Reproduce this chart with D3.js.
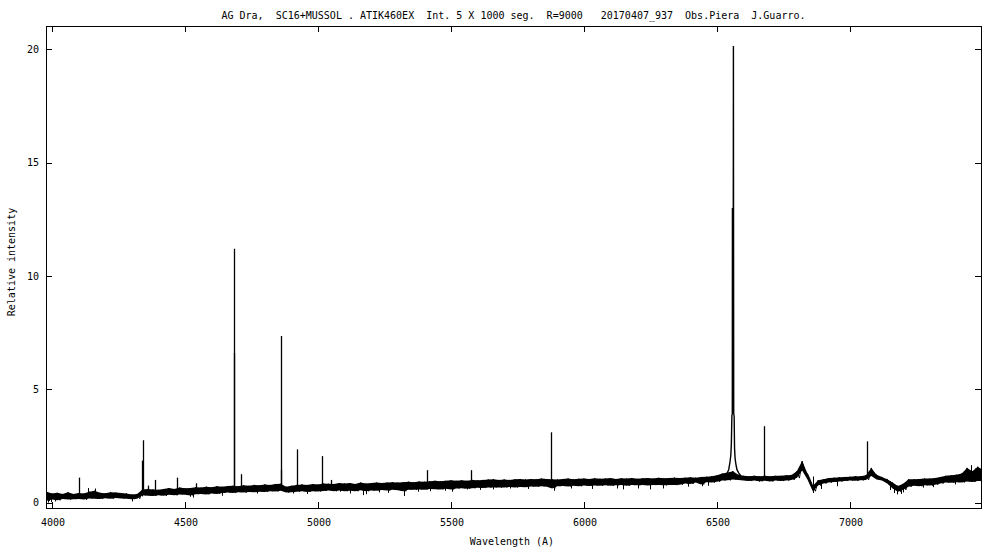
<!DOCTYPE html>
<html><head><meta charset="utf-8">
<script src="https://cdn.jsdelivr.net/npm/d3@7"></script>
<style>
html,body{margin:0;padding:0;background:#fff;}
text{font-family:"DejaVu Sans Mono",monospace;font-size:10px;fill:#000;white-space:pre;}
</style></head>
<body><svg id="c" width="1000" height="550"></svg>
<script>
// ---- data ----
const title = "AG Dra,  SC16+MUSSOL . ATIK460EX  Int. 5 X 1000 seg.  R=9000   20170407_937  Obs.Piera  J.Guarro.";
const xLabel = "Wavelength (A)";
const yLabel = "Relative intensity";
const xTicks = [4000, 4500, 5000, 5500, 6000, 6500, 7000];
const yTicks = [0, 5, 10, 15, 20];
const xDomain = [3977.4, 7492.5];
const yDomain = [-0.24, 21.03];

// continuum band, 20 A bins: lower and upper envelope of the noisy spectrum
const contWl = [3980,4000,4020,4040,4060,4080,4100,4120,4140,4160,4180,4200,4220,4240,4260,4280,4300,4320,4340,4360,4380,4400,4420,4440,4460,4480,4500,4520,4540,4560,4580,4600,4620,4640,4660,4680,4700,4720,4740,4760,4780,4800,4820,4840,4860,4880,4900,4920,4940,4960,4980,5000,5020,5040,5060,5080,5100,5120,5140,5160,5180,5200,5220,5240,5260,5280,5300,5320,5340,5360,5380,5400,5420,5440,5460,5480,5500,5520,5540,5560,5580,5600,5620,5640,5660,5680,5700,5720,5740,5760,5780,5800,5820,5840,5860,5880,5900,5920,5940,5960,5980,6000,6020,6040,6060,6080,6100,6120,6140,6160,6180,6200,6220,6240,6260,6280,6300,6320,6340,6360,6380,6400,6420,6440,6460,6480,6500,6520,6540,6560,6580,6600,6620,6640,6660,6680,6700,6720,6740,6760,6780,6800,6820,6840,6860,6880,6900,6920,6940,6960,6980,7000,7020,7040,7060,7080,7100,7120,7140,7160,7180,7200,7220,7240,7260,7280,7300,7320,7340,7360,7380,7400,7420,7440,7460,7480,7495];
const contLo = [0.08,0.14,0.10,0.16,0.13,0.15,0.16,0.13,0.18,0.17,0.16,0.19,0.17,0.20,0.18,0.17,0.15,0.17,0.32,0.30,0.29,0.32,0.30,0.34,0.32,0.36,0.34,0.31,0.37,0.38,0.36,0.40,0.38,0.42,0.44,0.42,0.46,0.44,0.47,0.46,0.48,0.47,0.50,0.49,0.52,0.44,0.46,0.48,0.50,0.47,0.50,0.49,0.51,0.53,0.50,0.53,0.50,0.52,0.50,0.54,0.50,0.53,0.52,0.55,0.53,0.56,0.54,0.50,0.57,0.56,0.58,0.57,0.60,0.59,0.58,0.61,0.58,0.62,0.63,0.61,0.63,0.65,0.64,0.66,0.67,0.66,0.67,0.69,0.67,0.69,0.68,0.71,0.70,0.72,0.70,0.62,0.72,0.73,0.71,0.74,0.72,0.75,0.73,0.75,0.74,0.76,0.74,0.76,0.77,0.74,0.77,0.76,0.78,0.75,0.77,0.78,0.76,0.78,0.77,0.79,0.84,0.82,0.88,0.80,0.90,0.88,0.92,0.97,0.98,1.02,1.00,0.97,0.95,0.97,0.94,0.96,0.93,0.97,0.95,0.97,1.00,1.08,1.42,1.02,0.50,0.75,0.84,0.88,0.91,0.93,0.95,0.97,0.96,0.98,1.00,1.17,1.02,0.97,0.84,0.62,0.48,0.56,0.70,0.74,0.72,0.76,0.75,0.79,0.84,0.88,0.87,0.90,0.89,0.93,0.91,0.95,0.95];
const contHi = [0.48,0.40,0.43,0.38,0.45,0.38,0.42,0.40,0.48,0.52,0.43,0.41,0.46,0.44,0.42,0.40,0.36,0.38,0.58,0.60,0.58,0.56,0.60,0.64,0.60,0.66,0.63,0.64,0.68,0.66,0.70,0.68,0.72,0.70,0.73,0.74,0.72,0.76,0.74,0.78,0.76,0.80,0.78,0.82,0.83,0.70,0.74,0.78,0.80,0.78,0.82,0.80,0.84,0.83,0.82,0.86,0.84,0.86,0.82,0.88,0.84,0.86,0.88,0.86,0.88,0.90,0.88,0.90,0.92,0.90,0.93,0.92,0.94,0.96,0.94,0.96,0.98,0.96,0.98,0.96,1.00,0.98,1.00,1.02,1.03,1.00,1.02,1.00,1.03,1.04,1.02,1.04,1.03,1.06,1.04,1.03,1.02,1.04,1.06,1.03,1.05,1.06,1.04,1.07,1.05,1.06,1.08,1.04,1.07,1.06,1.08,1.05,1.07,1.08,1.06,1.09,1.07,1.08,1.10,1.08,1.10,1.12,1.10,1.13,1.14,1.16,1.20,1.28,1.33,1.38,1.23,1.18,1.16,1.18,1.16,1.18,1.16,1.18,1.18,1.20,1.22,1.38,1.83,1.28,0.73,0.98,1.03,1.08,1.10,1.12,1.13,1.14,1.16,1.16,1.20,1.53,1.23,1.13,1.03,0.88,0.73,0.83,1.03,1.03,1.04,1.06,1.06,1.08,1.13,1.18,1.20,1.23,1.28,1.53,1.38,1.58,1.48];

// short noise spikes below / above the band: wavelength (A) and tip value
const noiseWl  = [3985,3995,4012,4135,4160,4300,4520,4530,4640,4770,4905,4960,5083,5120,5169,5180,5230,5263,5323,5376,5420,5477,5504,5560,5610,5658,5722,5790,5887,5950,6030,6124,6147,6203,6248,6297,6391,6444,6466,6658,6860,6890,6951,7150,7165,7175,7190,7200,7274,7312,7395,7455,7470];
const noiseVal = [0.00,0.02,0.05,0.64,0.62,0.05,0.26,0.22,0.30,0.40,0.40,0.38,0.48,0.40,0.33,0.37,0.45,0.43,0.29,0.48,0.50,0.52,0.48,0.58,0.56,0.58,0.62,0.60,0.52,0.62,0.60,0.62,0.58,0.62,0.58,0.62,0.70,0.72,0.74,0.92,0.42,0.60,0.72,0.55,0.42,0.36,0.38,0.45,0.66,0.68,0.80,1.65,1.50];

// narrow emission lines: wavelength (A) and peak intensity
const lineWl   = [4102, 4339, 4340.5, 4360, 4388, 4471, 4540, 4684, 4686, 4712, 4860, 4861, 4922, 5016, 5047, 5411, 5577, 5876, 6678, 7065];
const linePeak = [1.10, 1.85, 2.75,   0.75, 1.00, 1.10, 0.85, 6.60, 11.20, 1.25, 1.45, 7.35, 2.35, 2.05, 1.00, 1.43, 1.43, 3.10, 3.37, 2.70];

// H-alpha profile
const haWl  = [6536, 6544, 6549, 6552, 6554, 6556, 6557.5, 6558, 6558.8, 6560.5, 6561.7, 6562.8, 6564.5, 6566, 6568, 6571, 6575, 6582, 6590];
const haVal = [1.25, 1.45, 1.80, 2.10, 2.60, 3.85, 3.90, 13.0, 3.95, 4.00, 20.15, 3.95, 3.80, 2.40, 1.95, 1.70, 1.45, 1.30, 1.18];

// ---- layout ----
const L = 46, R = 981, T = 26, B = 508;
const svg = d3.select("#c");
const x = d3.scaleLinear().domain(xDomain).range([L, R]);
const y = d3.scaleLinear().domain(yDomain).range([B, T]);

svg.append("defs").append("clipPath").attr("id","clip")
  .append("rect").attr("x",L).attr("y",T).attr("width",R-L).attr("height",B-T);

const g = svg.append("g").attr("clip-path","url(#clip)");

const cont = contWl.map((w,i)=>({w, lo:contLo[i], hi:contHi[i]}));
g.append("path").datum(cont)
  .attr("d", d3.area().x(d=>x(d.w)).y0(d=>y(d.lo)).y1(d=>y(d.hi)))
  .attr("fill","#000").attr("stroke","none");

// zig-zag through the envelope to give the noisy texture
const zig = [];
cont.forEach((d,i)=>{ zig.push({w:d.w, v:d.hi}); if(i<cont.length-1) zig.push({w:d.w+10, v:d.lo}); });
g.append("path").datum(zig)
  .attr("d", d3.line().x(d=>x(d.w)).y(d=>y(d.v)))
  .attr("fill","none").attr("stroke","#000").attr("stroke-width",1);

const baseAt = w => {
  const i = Math.max(0, d3.bisectLeft(contWl, w) - 1);
  return (contLo[i] + contHi[i]) / 2;
};
g.append("g").selectAll("line").data(noiseWl.map((w,i)=>({w, v:noiseVal[i]}))).join("line")
  .attr("x1", d=>Math.round(x(d.w))+0.5).attr("x2", d=>Math.round(x(d.w))+0.5)
  .attr("y1", d=>y(baseAt(d.w))).attr("y2", d=>y(d.v))
  .attr("stroke","#000").attr("stroke-width",1);

g.append("g").selectAll("line").data(lineWl.map((w,i)=>({w, p:linePeak[i]}))).join("line")
  .attr("x1", d=>Math.round(x(d.w))+0.5).attr("x2", d=>Math.round(x(d.w))+0.5)
  .attr("y1", d=>y(baseAt(d.w))).attr("y2", d=>y(d.p))
  .attr("stroke","#000").attr("stroke-width",1.3);

g.append("path").datum(haWl.map((w,i)=>({w, v:haVal[i]})))
  .attr("d", d3.line().x(d=>x(d.w)).y(d=>y(d.v)))
  .attr("fill","none").attr("stroke","#000").attr("stroke-width",1.4);

// ---- frame and ticks ----
const ax = svg.append("g").attr("stroke","#000").attr("stroke-width",1).attr("shape-rendering","crispEdges");
ax.append("rect").attr("x",L+0.5).attr("y",T+0.5).attr("width",R-L).attr("height",B-T).attr("fill","none");
xTicks.forEach(t=>{
  const px = Math.round(x(t))+0.5;
  ax.append("line").attr("x1",px).attr("x2",px).attr("y1",B).attr("y2",B-6);
  ax.append("line").attr("x1",px).attr("x2",px).attr("y1",T).attr("y2",T+6);
});
yTicks.forEach(t=>{
  const py = Math.round(y(t))+0.5;
  ax.append("line").attr("x1",L).attr("x2",L+6).attr("y1",py).attr("y2",py);
  ax.append("line").attr("x1",R).attr("x2",R-6).attr("y1",py).attr("y2",py);
});

svg.append("g").selectAll("text").data(xTicks).join("text")
  .attr("x", d=>x(d)+1).attr("y", 526).attr("text-anchor","middle").text(d=>d);
svg.append("g").selectAll("text").data(yTicks).join("text")
  .attr("x", 39).attr("y", d=>y(d)+3.6).attr("text-anchor","end").text(d=>d);

svg.append("text").attr("x",(L+R)/2).attr("y",19).attr("text-anchor","middle").text(title);
svg.append("text").attr("x",512).attr("y",545).attr("text-anchor","middle").text(xLabel);
svg.append("text").attr("transform","translate(15,262) rotate(-90)").attr("text-anchor","middle").text(yLabel);
</script></body></html>
